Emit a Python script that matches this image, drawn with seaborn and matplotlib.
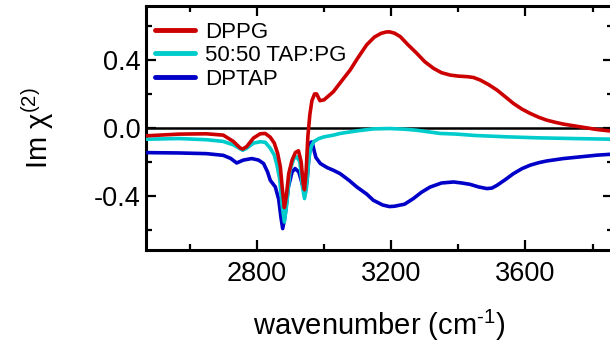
import numpy as np
import pandas as pd
import matplotlib
matplotlib.use("Agg")
import matplotlib.pyplot as plt
import seaborn as sns
from matplotlib.ticker import MultipleLocator

# ---- data ----
series_names = ["DPPG", "50:50 TAP:PG", "DPTAP"]
series_colors = ["#CC0000", "#00CCCC", "#0000C8"]

dppg_x = [2470, 2568, 2650, 2700, 2730, 2750, 2758, 2770, 2790, 2810, 2825, 2840,
          2852, 2862, 2870, 2876, 2882, 2888, 2895, 2905, 2915, 2924, 2932, 2938,
          2942, 2947, 2952, 2958, 2964, 2972, 2978, 2988, 3000, 3028, 3050, 3078,
          3100, 3127, 3150, 3170, 3185, 3195, 3210, 3227, 3250, 3276, 3300, 3326,
          3350, 3376, 3400, 3425, 3445, 3465, 3490, 3515, 3540, 3564, 3590, 3614,
          3640, 3664, 3690, 3713, 3763, 3813, 3860]
dppg_y = [-0.047, -0.037, -0.035, -0.043, -0.08, -0.118, -0.125, -0.11, -0.06, -0.035,
          -0.033, -0.055, -0.09, -0.15, -0.23, -0.36, -0.47, -0.40, -0.27, -0.19,
          -0.145, -0.135, -0.2, -0.33, -0.365, -0.25, -0.05, 0.08, 0.16, 0.2, 0.2,
          0.16, 0.165, 0.213, 0.27, 0.341, 0.41, 0.489, 0.535, 0.557, 0.565, 0.566,
          0.558, 0.538, 0.49, 0.44, 0.39, 0.351, 0.325, 0.311, 0.305, 0.302, 0.297,
          0.282, 0.255, 0.223, 0.183, 0.144, 0.11, 0.085, 0.062, 0.045, 0.032,
          0.022, 0.006, -0.01, -0.02]

mix_x = [2470, 2568, 2650, 2700, 2730, 2758, 2770, 2790, 2810, 2825, 2840, 2852,
         2860, 2868, 2875, 2882, 2889, 2899, 2910, 2919, 2928, 2936, 2942, 2948,
         2955, 2962, 2970, 2985, 3000, 3028, 3048, 3098, 3147, 3197, 3240, 3276,
         3346, 3396, 3450, 3545, 3640, 3742, 3860]
mix_y = [-0.067, -0.063, -0.07, -0.08, -0.1, -0.132, -0.12, -0.09, -0.082, -0.085,
         -0.12, -0.16, -0.22, -0.3, -0.45, -0.555, -0.45, -0.25, -0.18, -0.171,
         -0.2, -0.35, -0.417, -0.35, -0.18, -0.11, -0.08, -0.063, -0.053, -0.043,
         -0.033, -0.018, -0.006, -0.004, -0.008, -0.014, -0.033, -0.037, -0.045,
         -0.053, -0.059, -0.063, -0.067]

dptap_x = [2470, 2568, 2650, 2700, 2722, 2740, 2760, 2785, 2805, 2820, 2832, 2840,
           2855, 2865, 2872, 2877, 2884, 2894, 2905, 2914, 2925, 2935, 2944, 2950,
           2956, 2961, 2965, 2970, 2976, 2989, 3010, 3028, 3048, 3075, 3098, 3127,
           3147, 3175, 3195, 3210, 3240, 3266, 3290, 3316, 3350, 3386, 3410, 3435,
           3460, 3485, 3500, 3515, 3540, 3564, 3590, 3614, 3640, 3664, 3713, 3763,
           3813, 3860]
dptap_y = [-0.146, -0.148, -0.152, -0.162, -0.18, -0.207, -0.19, -0.181, -0.19, -0.21,
           -0.26, -0.309, -0.348, -0.42, -0.53, -0.594, -0.52, -0.348, -0.26, -0.24,
           -0.26, -0.33, -0.388, -0.3, -0.15, -0.085, -0.083, -0.13, -0.175, -0.21,
           -0.235, -0.25, -0.27, -0.31, -0.349, -0.39, -0.427, -0.455, -0.464, -0.462,
           -0.45, -0.417, -0.38, -0.349, -0.325, -0.319, -0.325, -0.333, -0.348,
           -0.358, -0.355, -0.339, -0.305, -0.27, -0.24, -0.22, -0.205, -0.195,
           -0.181, -0.171, -0.161, -0.155]

x_major_ticks = [2800, 3200, 3600]
y_major_ticks = [-0.4, 0.0, 0.4]
y_tick_labels = ["-0.4", "0.0", "0.4"]

# ---- build long-form table ----
frames = []
for name, xs, ys in zip(series_names, [dppg_x, mix_x, dptap_x], [dppg_y, mix_y, dptap_y]):
    frames.append(pd.DataFrame({"wavenumber": xs, "chi": ys, "sample": name}))
df = pd.concat(frames, ignore_index=True)

sns.set_theme(style="ticks")
plt.rcParams["font.family"] = ["Liberation Sans", "DejaVu Sans"]
plt.rcParams["mathtext.fontset"] = "custom"
plt.rcParams["mathtext.rm"] = "Liberation Sans"
plt.rcParams["mathtext.default"] = "regular"
for key in ["text.color", "axes.labelcolor", "xtick.color", "ytick.color",
            "xtick.labelcolor", "ytick.labelcolor", "axes.edgecolor"]:
    plt.rcParams[key] = "black"

fig = plt.figure(figsize=(6.10, 3.47), dpi=100)
W, H = 610, 347
left, right, top, bottom = 146, 612.8, 5.7, 250
ax = fig.add_axes([left / W, 1 - bottom / H, (right - left) / W, (bottom - top) / H])

ax.axhline(0, color="black", lw=1.8, zorder=1.5)

sns.lineplot(data=df, x="wavenumber", y="chi", hue="sample", hue_order=series_names,
             palette=series_colors, estimator=None, sort=False, lw=2.6, ax=ax)

for ln, z in zip(ax.lines[1:4], [5, 4, 3]):
    ln.set_zorder(z)
    ln.set_solid_capstyle("round")
    ln.set_solid_joinstyle("round")

ax.set_xlim(2470, 3860)
ax.set_ylim(-0.72, 0.72)
ax.set_xticks(x_major_ticks)
ax.xaxis.set_minor_locator(MultipleLocator(200))
ax.set_yticks(y_major_ticks)
ax.set_yticklabels(y_tick_labels)
ax.yaxis.set_minor_locator(MultipleLocator(0.2))

ax.tick_params(which="both", direction="in", top=True, right=True, width=1.6,
               colors="black", labelcolor="black")
ax.tick_params(which="major", length=7, labelsize=19.5)
ax.tick_params(which="minor", length=4)
ax.tick_params(axis="x", which="major", pad=8)
ax.tick_params(axis="y", which="major", pad=4)
for sp in ax.spines.values():
    sp.set_linewidth(2.2)
    sp.set_color("black")
    sp.set_visible(True)

ax.set_xlabel("wavenumber (cm$^{\u2010 1}$)", fontsize=21, color="black")
ax.set_ylabel("Im χ$^{(2)}$", fontsize=21, color="black")
ax.yaxis.set_label_coords(-0.193, 0.5)
ax.xaxis.set_label_coords(0.5, -0.235)

leg = ax.legend(loc="upper left", bbox_to_anchor=(0.019, 0.935), frameon=False,
                fontsize=16, handlelength=1.8, handletextpad=0.45, labelspacing=0.12,
                borderaxespad=0, borderpad=0)
for h in leg.get_lines():
    h.set_linewidth(3.5)
for t in leg.get_texts():
    t.set_color("black")
ax.grid(False)

fig.savefig("out.png", dpi=100)
